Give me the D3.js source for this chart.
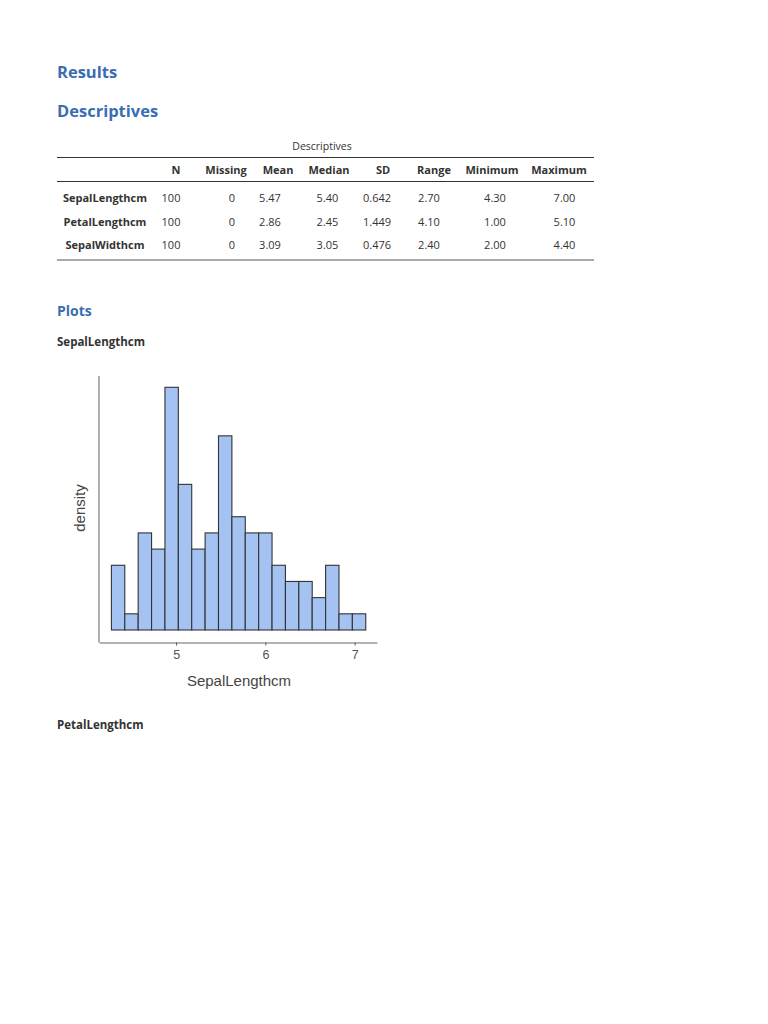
<!DOCTYPE html>
<html>
<head>
<meta charset="utf-8">
<script src="https://cdn.jsdelivr.net/npm/d3@7"></script>
<style>
  html, body { margin: 0; padding: 0; background: #fff; }
  svg { display: block; }
</style>
</head>
<body>
<script>
// ---------- data ----------
const tableTitle = "Descriptives";
const tableColumns = ["N", "Missing", "Mean", "Median", "SD", "Range", "Minimum", "Maximum"];
const tableRows = ["SepalLengthcm", "PetalLengthcm", "SepalWidthcm"];
const tableValues = [
  ["100", "0", "5.47", "5.40", "0.642", "2.70", "4.30", "7.00"],
  ["100", "0", "2.86", "2.45", "1.449", "4.10", "1.00", "5.10"],
  ["100", "0", "3.09", "3.05", "0.476", "2.40", "2.00", "4.40"]
];
const binEdges = [4.275, 4.425, 4.575, 4.725, 4.875, 5.025, 5.175, 5.325, 5.475, 5.625,
                  5.775, 5.925, 6.075, 6.225, 6.375, 6.525, 6.675, 6.825, 6.975, 7.125];
const binCounts = [4, 1, 6, 5, 15, 9, 5, 6, 12, 7, 6, 6, 4, 3, 3, 2, 4, 1, 1];
const xTicks = [5, 6, 7];
const xLabel = "SepalLengthcm";
const yLabel = "density";

// ---------- layout ----------
const W = 768, H = 1024;
const headFont = "'Open Sans', 'Noto Sans', sans-serif";
const plotFont = "'Liberation Sans', Arial, sans-serif";
const blue = "#3b6db3";

const svg = d3.select("body").append("svg").attr("width", W).attr("height", H);
svg.append("rect").attr("width", W).attr("height", H).attr("fill", "#fff");

function heading(txt, y, size, color) {
  svg.append("text").attr("x", 57).attr("y", y).text(txt)
    .attr("font-family", headFont).attr("font-weight", 700)
    .attr("font-size", size).attr("fill", color);
}
heading("Results", 78, 16.5, blue);
heading("Descriptives", 117, 16.5, blue);
heading("Plots", 316, 14, blue);
heading("SepalLengthcm", 346, 11.5, "#333");
heading("PetalLengthcm", 729, 11.5, "#333");

// ---------- table ----------
const tbl = svg.append("g").attr("font-family", headFont).attr("fill", "#333");
tbl.append("text").attr("x", 322).attr("y", 150).attr("text-anchor", "middle")
  .attr("font-size", 10.5).text(tableTitle);
tbl.append("line").attr("x1", 57).attr("x2", 594).attr("y1", 157.5).attr("y2", 157.5)
  .attr("stroke", "#333").attr("stroke-width", 1.2);
tbl.append("line").attr("x1", 57).attr("x2", 594).attr("y1", 181.5).attr("y2", 181.5)
  .attr("stroke", "#333").attr("stroke-width", 1.2);
tbl.append("line").attr("x1", 57).attr("x2", 594).attr("y1", 260).attr("y2", 260)
  .attr("stroke", "#555").attr("stroke-width", 1.2);

const headX = [176, 226, 278, 329, 383, 434, 492, 559];
const valX = [171, 232, 270, 327.5, 377, 429, 495, 564.5];
const rowY = [201.5, 225.5, 248.5];

tbl.selectAll("text.hdr").data(tableColumns).join("text").attr("class", "hdr")
  .attr("x", (d, i) => headX[i]).attr("y", 174).attr("text-anchor", "middle")
  .attr("font-size", 11).attr("font-weight", 700).text(d => d);

tableRows.forEach((r, ri) => {
  tbl.append("text").attr("x", 105).attr("y", rowY[ri]).attr("text-anchor", "middle")
    .attr("font-size", 11).attr("font-weight", 700).text(r);
  tbl.selectAll("text.v" + ri).data(tableValues[ri]).join("text").attr("class", "v" + ri)
    .attr("x", (d, i) => valX[i]).attr("y", rowY[ri]).attr("text-anchor", "middle")
    .attr("font-size", 11).text(d => d);
});

// ---------- histogram ----------
const x = d3.scaleLinear().domain([4.136, 7.251]).range([99, 377]);
const y = d3.scaleLinear().domain([0, 15]).range([630, 387.3]);

const bins = binCounts.map((c, i) => ({ x0: binEdges[i], x1: binEdges[i + 1], c }));
const plot = svg.append("g");

plot.selectAll("rect.bar").data(bins).join("rect").attr("class", "bar")
  .attr("x", d => x(d.x0)).attr("width", d => x(d.x1) - x(d.x0))
  .attr("y", d => y(d.c)).attr("height", d => y(0) - y(d.c))
  .attr("fill", "#a4c2f2").attr("stroke", "#333").attr("stroke-width", 1.1);

// axis lines
plot.append("line").attr("x1", 99).attr("x2", 99).attr("y1", 376).attr("y2", 642.5)
  .attr("stroke", "#9a9a9a").attr("stroke-width", 1.6);
const xAxis = d3.axisBottom(x).tickValues(xTicks).tickSize(3).tickSizeOuter(0)
  .tickPadding(5).tickFormat(d3.format("d"));
const gx = plot.append("g").attr("transform", "translate(0,642.5)").call(xAxis);
gx.select(".domain").attr("stroke", "#9a9a9a").attr("stroke-width", 1.6);
gx.selectAll(".tick line").attr("stroke", "#555").attr("stroke-width", 1);
gx.selectAll(".tick text").attr("font-family", plotFont).attr("font-size", 12.5).attr("fill", "#555");

plot.append("text").attr("x", 239).attr("y", 686).attr("text-anchor", "middle")
  .attr("font-family", plotFont).attr("font-size", 15).attr("fill", "#444").text(xLabel);
plot.append("text").attr("transform", "translate(85,508) rotate(-90)").attr("text-anchor", "middle")
  .attr("font-family", plotFont).attr("font-size", 15).attr("fill", "#444").text(yLabel);
</script>
</body>
</html>
